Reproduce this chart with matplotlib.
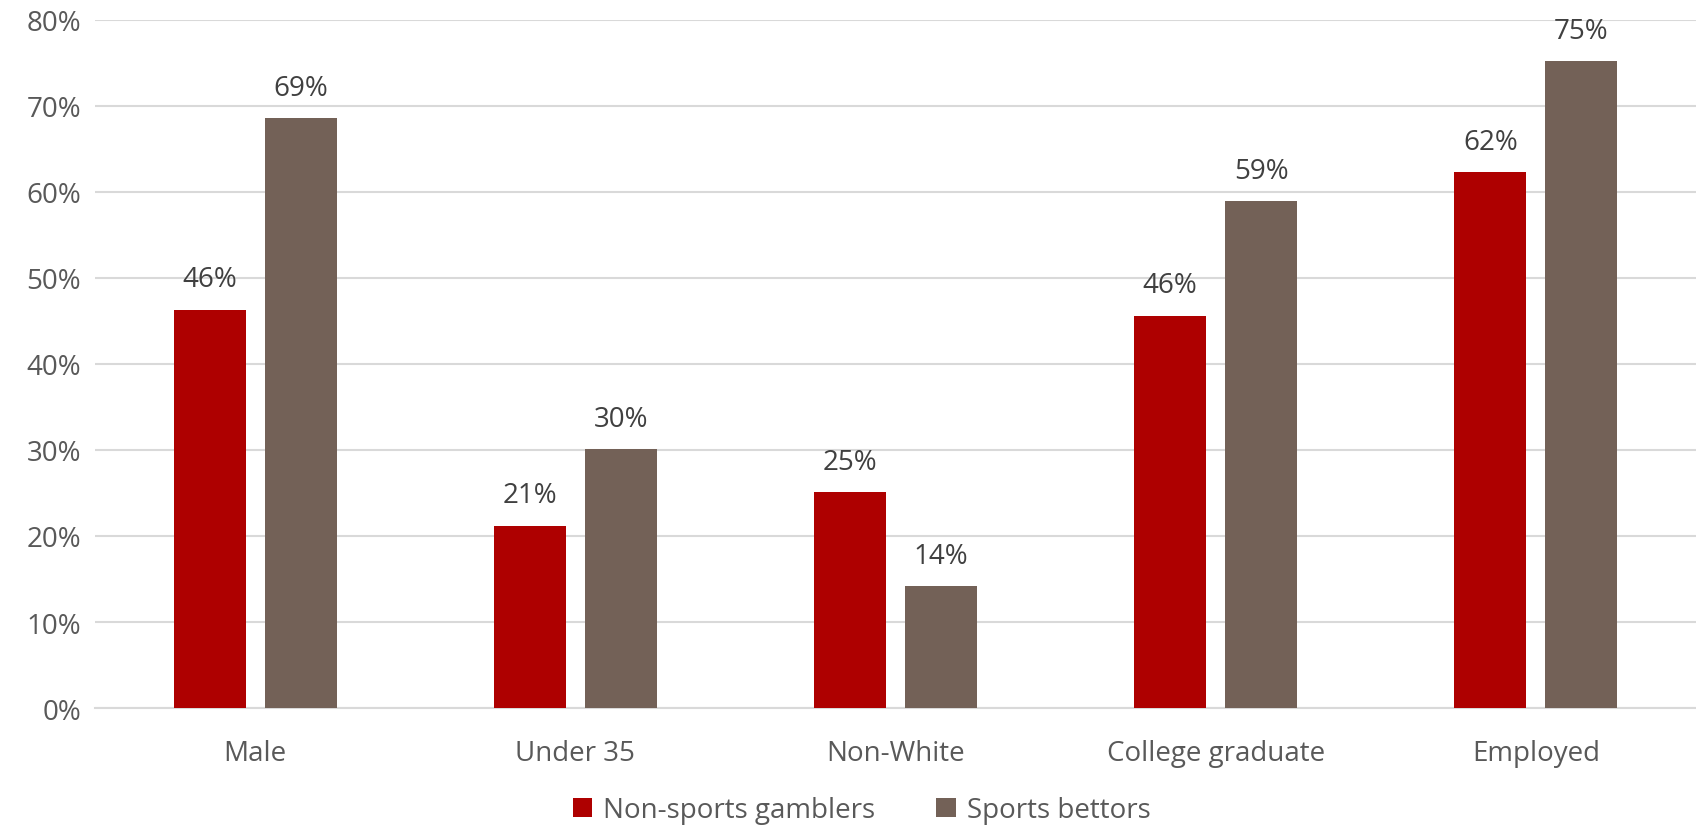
import matplotlib
matplotlib.use("Agg")
import matplotlib.pyplot as plt
import numpy as np
from matplotlib.ticker import PercentFormatter

plt.rcParams['font.family'] = ['Open Sans', 'DejaVu Sans']

categories = ["Male", "Under 35", "Non-White", "College graduate", "Employed"]
non_sports = [46.3, 21.2, 25.1, 45.6, 62.3]
sports = [68.6, 30.1, 14.2, 58.9, 75.2]
series_names = ["Non-sports gamblers", "Sports bettors"]

red = "#AE0000"
brown = "#736157"
grid_col = "#D9D9D9"

fig = plt.figure(figsize=(16.96, 8.28), dpi=100)
ax = fig.add_axes([0.056, 0.1437, 0.944, 0.831])

x = np.arange(len(categories))
w = 0.225
off = 0.142
b1 = ax.bar(x - off, non_sports, w, color=red, label=series_names[0], zorder=3)
b2 = ax.bar(x + off, sports, w, color=brown, label=series_names[1], zorder=3)

for bars, vals in ((b1, non_sports), (b2, sports)):
    for b, v in zip(bars, vals):
        ax.text(b.get_x() + b.get_width() / 2, v + 1.9, f"{int(v + 0.5)}%",
                ha="center", va="bottom", fontsize=20, color="#404040")

ax.set_xlim(-0.5, len(categories) - 0.5)
ax.set_ylim(0, 80)
ax.set_yticks(np.arange(0, 81, 10))
ax.yaxis.set_major_formatter(PercentFormatter(decimals=0))
ax.set_xticks(x)
ax.set_xticklabels(categories)
ax.tick_params(axis="both", length=0, labelsize=20, labelcolor="#595959")
ax.tick_params(axis="x", pad=22)
ax.tick_params(axis="y", pad=10)
ax.grid(axis="y", color=grid_col, linewidth=1.5, zorder=0)
for s in ["top", "right", "left"]:
    ax.spines[s].set_visible(False)
ax.spines["bottom"].set_color(grid_col)
ax.spines["bottom"].set_linewidth(1.5)

fig.legend(handles=[b1, b2], loc="center", bbox_to_anchor=(0.508, 0.02),
           ncol=2, frameon=False, fontsize=20, labelcolor="#595959",
           handlelength=0.7, handleheight=0.7, handletextpad=0.4,
           columnspacing=2.2)

fig.savefig("out.png", dpi=100)
